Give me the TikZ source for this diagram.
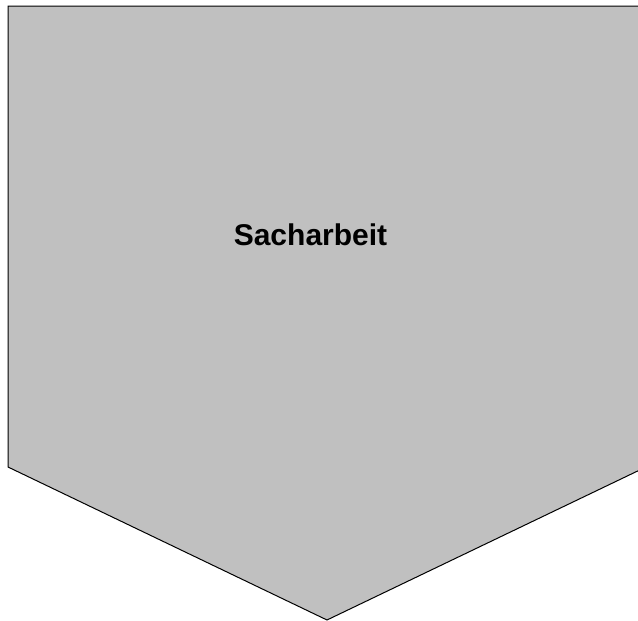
\documentclass[tikz,border=0pt]{standalone}
\usepackage{fontspec}
\setmainfont{Liberation Sans}
\begin{document}
\begin{tikzpicture}[x=1pt,y=-1pt]
\tikzset{arrowshape/.style={fill={rgb,255:red,192;green,192;blue,192},draw=black,line width=1pt,line join=miter},
label/.style={font=\fontsize{30}{36}\selectfont\bfseries,inner sep=0pt}}
\useasboundingbox (0,0) rectangle (638,621);
\clip (0,0) rectangle (638,621);
\fill[white] (0,0) rectangle (638,621);
\draw[arrowshape] (8,6) -- (646,6) -- (646,467) -- (327,620) -- (8,467) -- cycle;
\node[label] (t) at (310.5,235) {Sacharbeit};
\end{tikzpicture}
\end{document}
